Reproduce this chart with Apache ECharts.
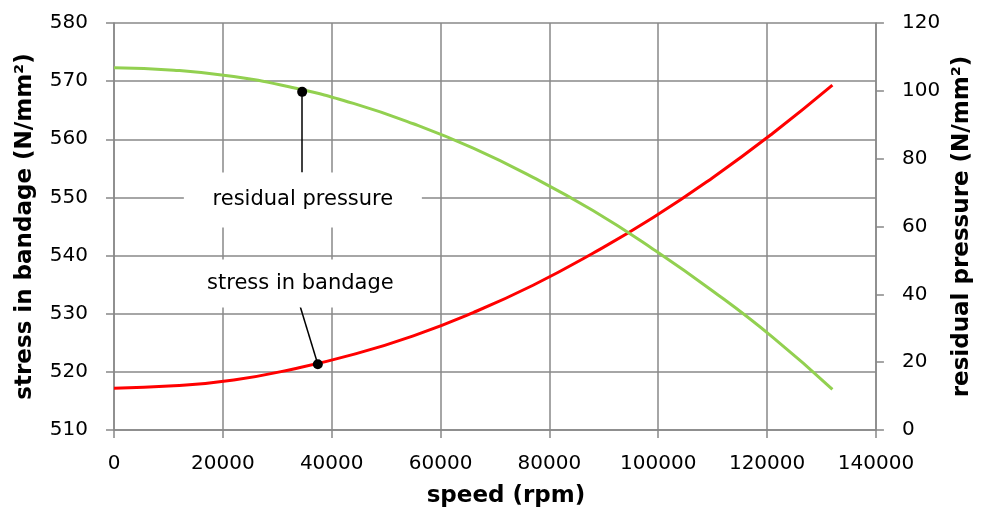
<!DOCTYPE html>
<html>
<head>
<meta charset="utf-8">
<script src="https://cdn.jsdelivr.net/npm/echarts@6/dist/echarts.min.js"></script>
<style>html,body{margin:0;padding:0;background:#fff}#c{width:982px;height:513px}</style>
</head>
<body>
<div id="c"></div>
<script>
// speed (rpm)
const speed = [0, 11000, 22000, 33000, 44000, 55000, 66000, 77000, 88000, 99000, 110000, 121000, 132000];
// stress in bandage (N/mm²), left axis
const stress = [517.2, 517.6, 518.6, 520.5, 523.0, 526.2, 530.2, 534.9, 540.4, 546.5, 553.4, 561.0, 569.3];
// residual pressure (N/mm²), right axis
const pressure = [106.8, 106.1, 104.2, 100.9, 96.3, 90.3, 83.1, 74.5, 64.7, 53.4, 41.0, 27.4, 12.0];

const xTitle = 'speed (rpm)';
const leftTitle = 'stress in bandage (N/mm²)';
const rightTitle = 'residual pressure (N/mm²)';

// annotation anchors (data coordinates)
const pressureLabel = 'residual pressure';
const pressureDot = [34575, 99.7];
const pressureLeaderEnd = [34575, 75.9];
const pressureBox = [34703, 67.8];
const stressLabel = 'stress in bandage';
const stressDot = [37450, 521.3];
const stressLeaderEnd = [34155, 531.4];
const stressBox = [34247, 535.2];

const FONT = 'DejaVu Sans';
const AX = '#888888';

const chart = echarts.init(document.getElementById('c'));
const zip = (xs, ys) => xs.map((x, i) => [x, ys[i]]);

chart.setOption({
  animation: false,
  backgroundColor: '#fff',
  textStyle: {fontFamily: FONT},
  grid: {left: 114, right: 101, top: 23, bottom: 83},
  xAxis: {
    type: 'value', min: 0, max: 140000, interval: 20000,
    name: xTitle, nameLocation: 'middle', nameGap: 55,
    nameTextStyle: {fontFamily: FONT, fontWeight: 'bold', fontSize: 23, color: '#000', padding: [0, 0, 0, 22]},
    axisLine: {show: true, lineStyle: {color: AX, width: 1.5}},
    axisTick: {show: true, inside: false, length: 8, lineStyle: {color: AX, width: 1.5}},
    axisLabel: {fontFamily: FONT, fontSize: 20, color: '#000', margin: 24, formatter: v => String(v)},
    splitLine: {show: true, lineStyle: {color: AX, width: 1.5}}
  },
  yAxis: [{
    type: 'value', min: 510, max: 580, interval: 10, position: 'left',
    name: leftTitle, nameLocation: 'middle', nameGap: 77, nameRotate: 90,
    nameTextStyle: {fontFamily: FONT, fontWeight: 'bold', fontSize: 23, color: '#000'},
    axisLine: {show: true, lineStyle: {color: AX, width: 1.5}},
    axisTick: {show: true, inside: false, length: 8, lineStyle: {color: AX, width: 1.5}},
    axisLabel: {fontFamily: FONT, fontSize: 20, color: '#000', margin: 26},
    splitLine: {show: true, lineStyle: {color: AX, width: 1.5}}
  }, {
    type: 'value', min: 0, max: 120, interval: 20, position: 'right',
    name: rightTitle, nameLocation: 'middle', nameGap: 71, nameRotate: 90,
    nameTextStyle: {fontFamily: FONT, fontWeight: 'bold', fontSize: 23, color: '#000'},
    axisLine: {show: true, lineStyle: {color: AX, width: 1.5}},
    axisTick: {show: true, inside: false, length: 8, lineStyle: {color: AX, width: 1.5}},
    axisLabel: {fontFamily: FONT, fontSize: 20, color: '#000', margin: 26},
    splitLine: {show: false}
  }],
  series: [{
    name: 'stress in bandage', type: 'line', yAxisIndex: 0,
    data: zip(speed, stress), smooth: true, showSymbol: false,
    lineStyle: {color: '#ff0000', width: 3}, itemStyle: {color: '#ff0000'},
    markLine: {
      silent: true, symbol: 'none', label: {show: false},
      lineStyle: {color: '#000', width: 1.5, type: 'solid'},
      data: [[{coord: stressLeaderEnd}, {coord: stressDot}]]
    },
    markPoint: {
      silent: true,
      data: [
        {coord: stressBox, symbol: 'rect', symbolSize: [251, 48], itemStyle: {color: '#fff'},
         label: {show: true, formatter: stressLabel, color: '#000', fontFamily: FONT, fontSize: 21, position: 'inside'}},
        {coord: stressDot, symbol: 'circle', symbolSize: 10, itemStyle: {color: '#000'}, label: {show: false}}
      ]
    }
  }, {
    name: 'residual pressure', type: 'line', yAxisIndex: 1,
    data: zip(speed, pressure), smooth: true, showSymbol: false,
    lineStyle: {color: '#92d050', width: 3}, itemStyle: {color: '#92d050'},
    markLine: {
      silent: true, symbol: 'none', label: {show: false},
      lineStyle: {color: '#000', width: 1.5, type: 'solid'},
      data: [[{coord: pressureDot}, {coord: pressureLeaderEnd}]]
    },
    markPoint: {
      silent: true,
      data: [
        {coord: pressureBox, symbol: 'rect', symbolSize: [238, 55], itemStyle: {color: '#fff'},
         label: {show: true, formatter: pressureLabel, color: '#000', fontFamily: FONT, fontSize: 21, position: 'inside'}},
        {coord: pressureDot, symbol: 'circle', symbolSize: 10, itemStyle: {color: '#000'}, label: {show: false}}
      ]
    }
  }]
});
</script>
</body>
</html>
